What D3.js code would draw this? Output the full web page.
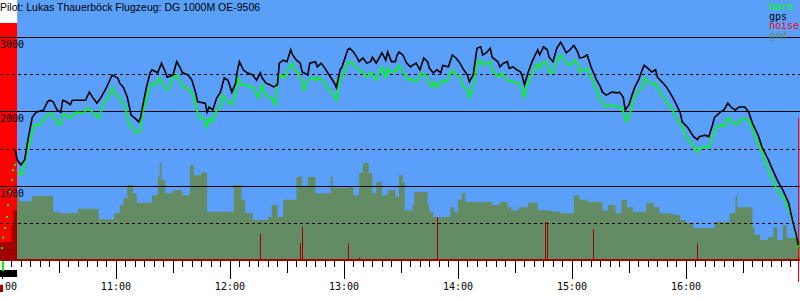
<!DOCTYPE html>
<html>
<head>
<meta charset="utf-8">
<script src="https://cdn.jsdelivr.net/npm/d3@7"></script>
<style>
  body { margin: 0; background: #fff; }
  svg { display: block; }
</style>
</head>
<body>
<svg id="chart"></svg>
<script>
const width = 800;
const height = 300;
const baseY = 260;

const title = 'Pilot: Lukas Thauerböck Flugzeug: DG 1000M OE-9506';
const timeDomain = ['09:59', '17:00'];
const altDomain = [0, 3500];
const solidLevels = [1000, 2000, 3000];
const dashedLevels = [500, 1500, 2500];
const legendItems = [['baro', '#00ff00'], ['gps', '#000000'], ['noise', '#ff0000'], ['gnd', '#648c64']];

// engine run before takeoff (full noise band)
const engineRun = ['09:59', '10:08'];

// gps altitude (m)
const gps = [["10:07",1480],["10:08",1350],["10:10",1280],["10:12",1350],["10:14",1660],["10:16",1920],["10:18",1990],["10:22",2020],["10:24",2130],["10:25",2150],["10:27",2130],["10:29",2020],["10:31",1990],["10:32",2150],["10:34",2130],["10:36",2090],["10:37",2150],["10:41",2150],["10:44",2150],["10:46",2260],["10:48",2180],["10:50",2110],["10:52",2180],["10:55",2320],["10:58",2490],["11:01",2450],["11:02",2380],["11:04",2320],["11:06",2190],["11:08",1950],["11:10",1910],["11:12",1860],["11:13",1920],["11:14",2060],["11:16",2320],["11:18",2520],["11:19",2560],["11:22",2520],["11:24",2650],["11:26",2530],["11:27",2460],["11:30",2490],["11:32",2670],["11:34",2580],["11:35",2520],["11:38",2490],["11:40",2420],["11:42",2250],["11:43",2130],["11:47",2110],["11:48",1990],["11:49",2060],["11:51",2020],["11:53",2180],["11:55",2260],["11:57",2450],["11:59",2420],["12:01",2260],["12:03",2380],["12:04",2560],["12:05",2670],["12:07",2560],["12:09",2520],["12:12",2490],["12:14",2420],["12:16",2520],["12:17",2450],["12:19",2380],["12:21",2360],["12:23",2330],["12:25",2360],["12:26",2650],["12:28",2690],["12:30",2670],["12:32",2830],["12:33",2760],["12:35",2690],["12:37",2650],["12:38",2530],["12:41",2490],["12:42",2650],["12:45",2670],["12:46",2600],["12:48",2650],["12:50",2580],["12:53",2460],["12:55",2380],["12:56",2320],["12:58",2560],["12:59",2600],["13:02",2830],["13:03",2850],["13:05",2800],["13:07",2720],["13:08",2670],["13:10",2720],["13:12",2650],["13:14",2670],["13:15",2730],["13:17",2650],["13:20",2790],["13:22",2690],["13:23",2800],["13:25",2670],["13:27",2670],["13:28",2760],["13:29",2800],["13:31",2760],["13:33",2650],["13:35",2600],["13:36",2620],["13:38",2650],["13:40",2560],["13:42",2720],["13:44",2670],["13:45",2580],["13:47",2520],["13:49",2560],["13:51",2520],["13:52",2620],["13:55",2600],["13:57",2760],["13:59",2720],["14:01",2650],["14:03",2560],["14:05",2490],["14:06",2400],["14:08",2490],["14:10",2850],["14:12",2870],["14:13",2760],["14:15",2790],["14:17",2850],["14:18",2730],["14:21",2670],["14:22",2600],["14:24",2650],["14:26",2670],["14:27",2580],["14:29",2600],["14:31",2560],["14:33",2530],["14:34",2460],["14:35",2360],["14:37",2530],["14:39",2670],["14:42",2830],["14:43",2760],["14:45",2870],["14:47",2830],["14:48",2730],["14:50",2670],["14:52",2850],["14:54",2930],["14:55",2890],["14:57",2790],["14:59",2830],["15:01",2890],["15:03",2800],["15:04",2720],["15:06",2730],["15:08",2760],["15:10",2600],["15:13",2420],["15:15",2330],["15:16",2260],["15:18",2220],["15:21",2260],["15:24",2250],["15:25",2260],["15:27",2190],["15:28",2020],["15:30",2090],["15:32",2250],["15:33",2320],["15:35",2420],["15:37",2560],["15:38",2620],["15:40",2580],["15:42",2530],["15:44",2560],["15:45",2460],["15:48",2380],["15:50",2320],["15:53",2190],["15:55",2090],["15:57",1980],["15:58",1860],["16:01",1780],["16:04",1660],["16:06",1620],["16:07",1660],["16:10",1680],["16:12",1660],["16:14",1820],["16:15",1920],["16:18",1990],["16:20",2020],["16:22",2110],["16:24",2050],["16:26",2020],["16:28",2060],["16:31",2060],["16:33",1990],["16:35",1840],["16:38",1680],["16:40",1520],["16:43",1370],["16:45",1250],["16:48",1080],["16:51",940],["16:54",770],["16:56",540],["16:58",340],["16:59",200]];

// baro samples before takeoff (drawn as dots)
const baroPre = [["10:00:03",160],["10:00:35",300],["10:01:38",430],["10:02:41",580],["10:03:13",740],["10:04:16",920],["10:05:19",1080],["10:05:50",1210],["10:06:53",1280]];

// baro altitude (m)
const baro = [["10:08",1210],["10:10",1140],["10:11",1170],["10:13",1440],["10:15",1620],["10:16",1710],["10:17",1820],["10:20",1820],["10:23",1920],["10:25",1980],["10:27",1950],["10:29",1840],["10:31",1820],["10:32",1950],["10:34",1950],["10:36",1910],["10:39",1990],["10:43",1980],["10:45",2050],["10:48",1980],["10:51",1910],["10:53",2090],["10:56",2190],["10:58",2320],["10:59",2250],["11:02",2180],["11:05",2050],["11:07",1820],["11:11",1710],["11:13",1750],["11:14",1990],["11:17",2260],["11:19",2380],["11:21",2360],["11:23",2450],["11:25",2360],["11:27",2290],["11:28",2320],["11:30",2450],["11:32",2490],["11:34",2400],["11:35",2330],["11:37",2320],["11:39",2290],["11:41",2180],["11:43",1980],["11:44",1910],["11:46",1910],["11:48",1790],["11:49",1910],["11:51",1860],["11:53",2020],["11:55",2060],["11:56",2220],["11:58",2150],["12:01",2090],["12:03",2220],["12:04",2460],["12:06",2360],["12:09",2360],["12:11",2320],["12:12",2330],["12:15",2180],["12:17",2360],["12:18",2260],["12:20",2190],["12:22",2180],["12:24",2090],["12:25",2450],["12:27",2490],["12:29",2450],["12:31",2600],["12:33",2650],["12:34",2560],["12:36",2520],["12:38",2380],["12:39",2290],["12:41",2420],["12:44",2460],["12:46",2420],["12:47",2460],["12:50",2380],["12:52",2290],["12:54",2250],["12:56",2150],["12:58",2450],["12:59",2460],["13:02",2650],["13:04",2670],["13:06",2600],["13:08",2560],["13:10",2520],["13:12",2460],["13:14",2530],["13:15",2490],["13:17",2420],["13:20",2600],["13:22",2460],["13:23",2580],["13:25",2520],["13:28",2560],["13:29",2620],["13:31",2530],["13:34",2420],["13:36",2450],["13:37",2400],["13:39",2420],["13:41",2520],["13:43",2490],["13:44",2420],["13:46",2330],["13:48",2400],["13:49",2320],["13:52",2420],["13:54",2400],["13:57",2560],["13:58",2520],["14:01",2450],["14:03",2330],["14:05",2290],["14:06",2190],["14:08",2330],["14:10",2650],["14:12",2690],["14:13",2620],["14:15",2650],["14:17",2670],["14:18",2560],["14:21",2460],["14:23",2520],["14:25",2460],["14:26",2420],["14:29",2400],["14:32",2380],["14:34",2290],["14:35",2180],["14:36",2330],["14:39",2520],["14:42",2650],["14:43",2580],["14:45",2670],["14:47",2650],["14:48",2530],["14:50",2520],["14:52",2690],["14:54",2760],["14:55",2720],["14:57",2650],["14:59",2620],["15:01",2690],["15:03",2650],["15:04",2530],["15:06",2560],["15:08",2580],["15:10",2460],["15:13",2290],["15:15",2150],["15:16",2130],["15:18",2060],["15:21",2090],["15:24",2060],["15:26",2060],["15:28",1920],["15:29",1860],["15:31",2020],["15:32",2130],["15:34",2250],["15:37",2320],["15:38",2450],["15:40",2400],["15:42",2360],["15:44",2380],["15:45",2320],["15:48",2190],["15:50",2130],["15:53",2020],["15:55",1910],["15:58",1790],["16:00",1660],["16:03",1570],["16:06",1450],["16:07",1510],["16:10",1520],["16:12",1510],["16:14",1660],["16:16",1780],["16:19",1820],["16:20",1790],["16:22",1920],["16:25",1840],["16:27",1820],["16:28",1880],["16:32",1900],["16:34",1840],["16:36",1680],["16:39",1510],["16:42",1310],["16:44",1170],["16:48",940],["16:51",850],["16:55",630],["16:57",440],["16:59",170]];

// ground elevation under the track (m)
const gnd = [["09:59",240],["10:05",470],["10:06",670],["10:08",870],["10:09",790],["10:16",860],["10:27",650],["10:30",630],["10:40",690],["10:51",550],["10:59",630],["11:02",740],["11:04",830],["11:06",1010],["11:09",900],["11:11",770],["11:19",870],["11:22",1120],["11:23",1310],["11:24",1080],["11:26",900],["11:30",940],["11:35",870],["11:39",1280],["11:41",1140],["11:45",1180],["11:48",650],["12:02",1010],["12:06",810],["12:08",630],["12:12",540],["12:20",580],["12:22",740],["12:25",580],["12:28",810],["12:35",1120],["12:38",980],["12:41",1120],["12:45",900],["12:53",1120],["12:54",970],["13:02",980],["13:05",870],["13:08",1170],["13:10",1310],["13:13",1170],["13:15",900],["13:17",1050],["13:20",870],["13:23",940],["13:27",850],["13:29",1140],["13:31",1050],["13:32",670],["13:36",740],["13:37",920],["13:44",740],["13:45",650],["13:47",580],["13:56",710],["13:58",650],["14:00",810],["14:02",900],["14:04",780],["14:18",740],["14:22",780],["14:26",710],["14:28",670],["14:32",710],["14:37",770],["14:42",670],["14:49",650],["14:54",630],["15:01",870],["15:04",810],["15:08",780],["15:16",670],["15:19",740],["15:23",630],["15:26",810],["15:29",710],["15:32",650],["15:39",770],["15:43",710],["15:46",630],["15:53",610],["15:57",540],["16:00",500],["16:04",430],["16:10",430],["16:15",510],["16:23",630],["16:26",870],["16:27",710],["16:35",440],["16:36",340],["16:39",270],["16:43",310],["16:46",440],["16:48",270],["16:51",470],["16:53",300],["16:58",270],["17:00",270]];

// noise level (% of scale)
const noise = [["12:16",11],["12:37",7],["12:38",14],["13:02",7],["13:08",1],["13:49",18],["14:46",16],["14:47",16],["15:11",13],["16:06",7],["16:59",60]];

const parseHM = d3.timeParse('%H:%M');
const parseHMS = d3.timeParse('%H:%M:%S');
const parseT = s => s.length > 5 ? parseHMS(s) : parseHM(s);

const svg = d3.select('#chart')
    .attr('width', width)
    .attr('height', height)
    .style('font-family', 'DejaVu Sans Mono, monospace');

const x = d3.scaleTime()
    .domain(timeDomain.map(parseT))
    .range([0, width]);

const y = d3.scaleLinear()
    .domain(altDomain)
    .range([baseY, 0]);

const noiseY = d3.scaleLinear()
    .domain([0, 100])
    .range([baseY, 23]);

const takeoffX = x(parseT(engineRun[1]));

// sky
svg.append('rect')
    .attr('x', takeoffX).attr('y', 0)
    .attr('width', width - takeoffX).attr('height', baseY)
    .attr('fill', '#5aa0fa');

// engine noise band
svg.append('rect')
    .attr('x', x(parseT(engineRun[0]))).attr('y', noiseY(100))
    .attr('width', takeoffX - x(parseT(engineRun[0])))
    .attr('height', baseY - noiseY(100))
    .attr('fill', '#ff0000');

const defs = svg.append('defs');
defs.append('clipPath').attr('id', 'after')
    .append('rect').attr('x', takeoffX).attr('y', 0).attr('width', width).attr('height', baseY);
defs.append('clipPath').attr('id', 'before')
    .append('rect').attr('x', 0).attr('y', 0).attr('width', takeoffX).attr('height', baseY);

const gndArea = d3.area()
    .curve(d3.curveStepAfter)
    .x(d => x(parseT(d[0])))
    .y0(baseY)
    .y1(d => y(d[1]));

svg.append('path')
    .datum(gnd)
    .attr('clip-path', 'url(#after)')
    .attr('fill', '#648c64')
    .attr('d', gndArea);

svg.append('path')
    .datum(gnd)
    .attr('clip-path', 'url(#before)')
    .attr('fill', '#a00000')
    .attr('d', gndArea);

// grid
svg.append('g')
    .selectAll('line')
    .data(solidLevels)
    .enter()
    .append('line')
    .attr('x1', 0).attr('x2', width)
    .attr('y1', d => Math.round(y(d)) + 0.5)
    .attr('y2', d => Math.round(y(d)) + 0.5)
    .attr('stroke', '#000');

svg.append('g')
    .selectAll('line')
    .data(dashedLevels)
    .enter()
    .append('line')
    .attr('x1', 0).attr('x2', width)
    .attr('y1', d => Math.round(y(d)) + 0.5)
    .attr('y2', d => Math.round(y(d)) + 0.5)
    .attr('stroke', '#000')
    .attr('stroke-dasharray', '3,3');

svg.append('g')
    .selectAll('text')
    .data(solidLevels)
    .enter()
    .append('text')
    .attr('x', 0)
    .attr('y', d => y(d) + 11)
    .attr('font-size', 10)
    .attr('fill', '#000')
    .text(d => d);

// noise spikes
svg.append('g')
    .selectAll('line')
    .data(noise)
    .enter()
    .append('line')
    .attr('x1', d => Math.round(x(parseT(d[0]))) + 0.5)
    .attr('x2', d => Math.round(x(parseT(d[0]))) + 0.5)
    .attr('y1', d => d[1] >= 50 ? 282 : baseY)
    .attr('y2', d => noiseY(d[1]))
    .attr('stroke', d => d[1] >= 50 ? '#ff0000' : '#a00000');

// baro before takeoff
svg.append('g')
    .selectAll('rect')
    .data(baroPre)
    .enter()
    .append('rect')
    .attr('x', d => x(parseT(d[0])) - 1)
    .attr('y', d => y(d[1]) - 1)
    .attr('width', 2).attr('height', 2)
    .attr('fill', '#00ff00');

const line = d3.line()
    .x(d => x(parseT(d[0])))
    .y(d => y(d[1]));

svg.append('path')
    .datum(baro)
    .attr('fill', 'none')
    .attr('stroke', '#00ff00')
    .attr('stroke-width', 1.6)
    .attr('d', line);

svg.append('path')
    .datum(gps)
    .attr('fill', 'none')
    .attr('stroke', '#000')
    .attr('stroke-width', 1.6)
    .attr('d', line);

// time axis
svg.append('rect')
    .attr('x', 0).attr('y', baseY - 1)
    .attr('width', width).attr('height', 2)
    .attr('fill', '#a00000');

const ticks = d3.timeMinute.every(5).range(parseT('10:00'), parseT('17:00'));
svg.append('g')
    .selectAll('line')
    .data(ticks)
    .enter()
    .append('line')
    .attr('x1', d => Math.round(x(d)) + 0.5)
    .attr('x2', d => Math.round(x(d)) + 0.5)
    .attr('y1', baseY + 1)
    .attr('y2', d => d.getMinutes() === 0 ? 279 : d.getMinutes() === 30 ? 273 : 267)
    .attr('stroke', '#000');

svg.append('g')
    .selectAll('text')
    .data(ticks.filter(d => d.getMinutes() === 0))
    .enter()
    .append('text')
    .attr('x', d => x(d))
    .attr('y', 290)
    .attr('text-anchor', 'middle')
    .attr('font-size', 10)
    .text(d3.timeFormat('%H:%M'));

// takeoff markers under the axis
svg.append('rect')
    .attr('x', 0).attr('y', 270)
    .attr('width', takeoffX).attr('height', 7)
    .attr('fill', '#000');
svg.append('rect')
    .attr('x', 2).attr('y', baseY + 1)
    .attr('width', 2).attr('height', 10)
    .attr('fill', '#00ff00');
svg.append('rect')
    .attr('x', 0).attr('y', 285)
    .attr('width', 3).attr('height', 7)
    .attr('fill', '#a00000');

// legend
svg.append('g')
    .selectAll('text')
    .data(legendItems)
    .enter()
    .append('text')
    .attr('x', 769)
    .attr('y', (d, i) => 10 + i * 9.5)
    .attr('font-size', 10)
    .attr('fill', d => d[1])
    .text(d => d[0]);

svg.append('text')
    .attr('x', 0)
    .attr('y', 11)
    .style('font-family', 'Liberation Sans, Arial, sans-serif')
    .attr('font-size', 10.5)
    .attr('fill', '#000')
    .text(title);
</script>
</body>
</html>
